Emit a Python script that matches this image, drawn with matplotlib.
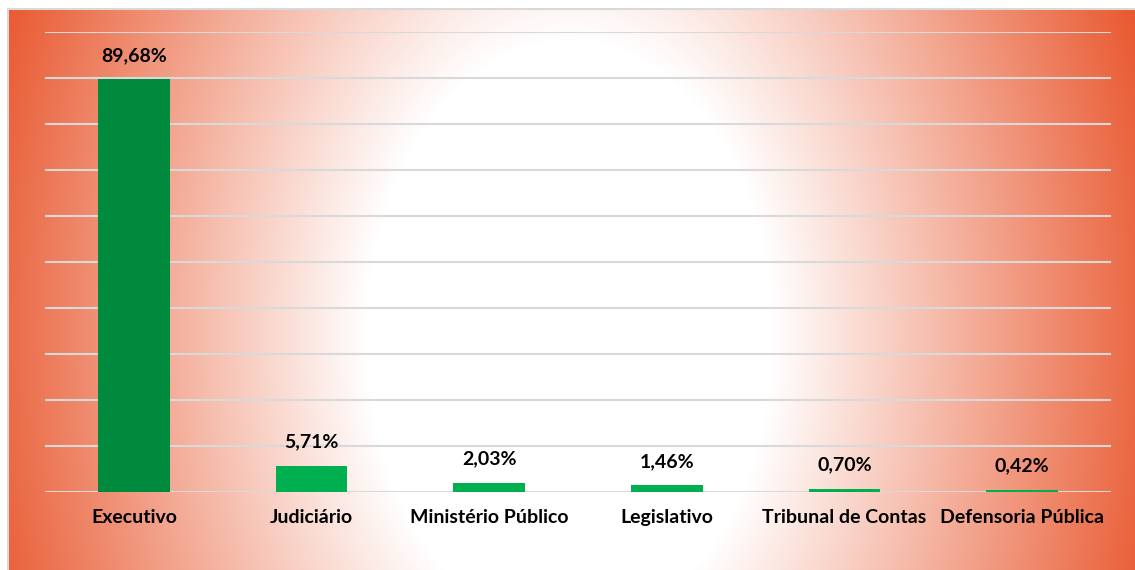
import matplotlib
matplotlib.use('Agg')
import matplotlib.pyplot as plt
import numpy as np

plt.rcParams['font.family'] = ['Lato', 'DejaVu Sans']

# dados
categorias = ['Executivo', 'Judiciário', 'Ministério Público', 'Legislativo',
              'Tribunal de Contas', 'Defensoria Pública']
valores = [89.68, 5.71, 2.03, 1.46, 0.70, 0.42]

cor_barras = ['#008A3E', '#00B050', '#00B050', '#00B050', '#00B050', '#00B050']

W, H = 1135, 570
fig = plt.figure(figsize=(W / 100, H / 100), dpi=100)
fig.patch.set_facecolor('white')

# fundo com degradê radial (branco no centro, laranja nas bordas)
bg = fig.add_axes([8 / W, 0, 1 - 8 / W, (H - 9) / H])
xs = np.arange(8, W)
ys = np.arange(9, H)
X, Y = np.meshgrid(xs, ys)
t = np.sqrt(((X - 569) / 203.0) ** 2 + ((Y - 335) / 295.0) ** 2)
frac = np.clip((t - 1.0) / 2.05, 0, 1)[..., None]
branco = np.array([255, 255, 255]) / 255.0
laranja = np.array([232, 84, 42]) / 255.0
img = branco * (1 - frac) + laranja * frac
bg.imshow(img, aspect='auto', interpolation='bilinear')
bg.set_xticks([])
bg.set_yticks([])
for lado in ['right', 'bottom']:
    bg.spines[lado].set_visible(False)
for lado in ['top', 'left']:
    bg.spines[lado].set_color('#D9D9D9')
    bg.spines[lado].set_linewidth(1.5)

# gráfico de barras
ax = fig.add_axes([45 / W, (H - 492) / H, 1066 / W, 460 / H])
ax.patch.set_alpha(0)
x = np.arange(len(categorias))
ax.set_ylim(0, 100)
ax.set_xlim(-0.5, len(categorias) - 0.5)
ax.set_yticks(np.arange(0, 101, 10))
ax.yaxis.grid(True, color='#D9D9D9', linewidth=1.5)
ax.set_axisbelow(True)
ax.bar(x, valores, width=0.405, color=cor_barras, zorder=3)

for xi, v in zip(x, valores):
    ax.annotate(f'{v:.2f}%'.replace('.', ','), xy=(xi, v), xytext=(0, 24),
                textcoords='offset pixels', ha='center', va='center',
                fontsize=14, fontweight='bold', color='black')

ax.set_xticks(x)
ax.set_xticklabels(categorias, fontsize=14, fontweight='bold')
ax.tick_params(axis='x', length=0, pad=12)
ax.tick_params(axis='y', length=0, labelleft=False)
for s in ax.spines.values():
    s.set_visible(False)

fig.savefig('out.png', dpi=100)
